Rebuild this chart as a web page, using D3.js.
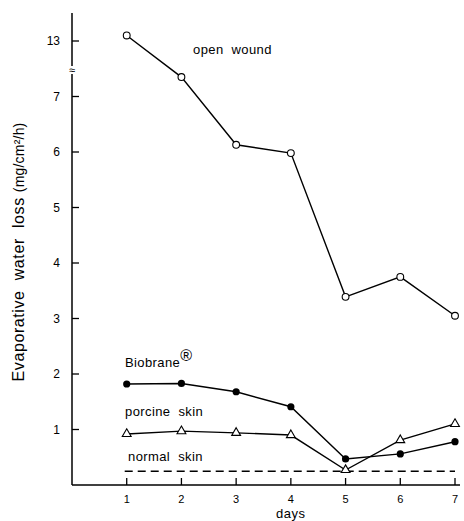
<!DOCTYPE html>
<html>
<head>
<meta charset="utf-8">
<script src="https://cdn.jsdelivr.net/npm/d3@7"></script>
<style>
  body { margin: 0; background: #fff; }
  svg { display: block; font-family: "Liberation Sans", Arial, sans-serif; }
  text { white-space: pre; }
</style>
</head>
<body>
<div class="container"></div>
<script>
// data
const days = [1, 2, 3, 4, 5, 6, 7];
const openWound = [13.1, 7.35, 6.13, 5.98, 3.39, 3.75, 3.05];
const biobrane = [1.82, 1.83, 1.68, 1.41, 0.47, 0.56, 0.78];
const porcine = [0.92, 0.97, 0.94, 0.9, 0.27, 0.81, 1.1];
const normalSkin = 0.25;
const yTicks = [1, 2, 3, 4, 5, 6, 7, 13];
const xTicks = [1, 2, 3, 4, 5, 6, 7];

const W = 464, H = 521;
const margin = { top: 13, right: 4, bottom: 36, left: 72 };

const svg = d3.select(".container")
    .append("svg")
    .attr("width", W)
    .attr("height", H);

const x = d3.scaleLinear()
    .domain([0, 7])
    .range([margin.left, 455]);

// linear part 0..8, values above the break are shifted down by 5
const yLin = d3.scaleLinear()
    .domain([0, 8])
    .range([485, 41]);
const y = v => v > 10 ? yLin(v - 5) : yLin(v);

const g = svg.append("g");

// axes lines
g.append("line")
    .attr("x1", margin.left).attr("x2", margin.left)
    .attr("y1", 13).attr("y2", 66)
    .attr("stroke", "#000").attr("stroke-width", 1.5);
g.append("line")
    .attr("x1", margin.left).attr("x2", margin.left)
    .attr("y1", 74).attr("y2", 485)
    .attr("stroke", "#000").attr("stroke-width", 1.5);
g.append("line")
    .attr("x1", margin.left).attr("x2", 460)
    .attr("y1", 485).attr("y2", 485)
    .attr("stroke", "#000").attr("stroke-width", 1.5);

// axis break mark
g.append("text")
    .attr("x", margin.left)
    .attr("y", 74)
    .attr("text-anchor", "middle")
    .attr("font-size", 11)
    .text("≈");

// y ticks
const yAxis = g.append("g").attr("class", "y-axis");
yAxis.selectAll("line")
    .data(yTicks)
    .enter()
    .append("line")
    .attr("x1", margin.left).attr("x2", margin.left + 7)
    .attr("y1", d => y(d)).attr("y2", d => y(d))
    .attr("stroke", "#000").attr("stroke-width", 1.3);
yAxis.selectAll("text")
    .data(yTicks)
    .enter()
    .append("text")
    .attr("x", margin.left - 12)
    .attr("y", d => y(d) + 4)
    .attr("text-anchor", "end")
    .attr("font-size", 12)
    .text(d => d);

// x ticks
const xAxis = g.append("g").attr("class", "x-axis");
xAxis.selectAll("line")
    .data(xTicks)
    .enter()
    .append("line")
    .attr("x1", d => x(d)).attr("x2", d => x(d))
    .attr("y1", 485).attr("y2", 478)
    .attr("stroke", "#000").attr("stroke-width", 1.3);
xAxis.selectAll("text")
    .data(xTicks)
    .enter()
    .append("text")
    .attr("x", d => x(d))
    .attr("y", 503)
    .attr("text-anchor", "middle")
    .attr("font-size", 11)
    .text(d => d);

g.append("text")
    .attr("x", x(4))
    .attr("y", 518)
    .attr("text-anchor", "middle")
    .attr("font-size", 13)
    .attr("letter-spacing", 0.5)
    .text("days");

// y title
g.append("text")
    .attr("transform", "translate(24, 252) rotate(-90)")
    .attr("text-anchor", "middle")
    .attr("font-size", 16)
    .attr("letter-spacing", 0.6)
    .text("Evaporative  water  loss ")
    .append("tspan")
    .attr("font-size", 14)
    .attr("letter-spacing", 0.2)
    .text("(mg/cm²/h)");

// normal skin dashed line
g.append("line")
    .attr("x1", x(1) - 2).attr("x2", x(7))
    .attr("y1", y(normalSkin)).attr("y2", y(normalSkin))
    .attr("stroke", "#000").attr("stroke-width", 1.5)
    .attr("stroke-dasharray", "8,5");

const line = d3.line()
    .x((d, i) => x(days[i]))
    .y(d => y(d));

function series(values) {
    g.append("path")
        .datum(values)
        .attr("d", line)
        .attr("fill", "none")
        .attr("stroke", "#000")
        .attr("stroke-width", 1.4);
}
series(openWound);
series(biobrane);
series(porcine);

g.selectAll("circle.ow")
    .data(openWound)
    .enter()
    .append("circle")
    .attr("class", "ow")
    .attr("cx", (d, i) => x(days[i]))
    .attr("cy", d => y(d))
    .attr("r", 3.4)
    .attr("fill", "#fff")
    .attr("stroke", "#000")
    .attr("stroke-width", 1.1);

g.selectAll("circle.bb")
    .data(biobrane)
    .enter()
    .append("circle")
    .attr("class", "bb")
    .attr("cx", (d, i) => x(days[i]))
    .attr("cy", d => y(d))
    .attr("r", 3.6)
    .attr("fill", "#000");

const tri = d3.symbol().type(d3.symbolTriangle).size(34);
g.selectAll("path.pc")
    .data(porcine)
    .enter()
    .append("path")
    .attr("class", "pc")
    .attr("d", tri)
    .attr("transform", (d, i) => `translate(${x(days[i])}, ${y(d)})`)
    .attr("fill", "#fff")
    .attr("stroke", "#000")
    .attr("stroke-width", 1.1);

// labels
const labels = g.append("g").attr("font-size", 13).attr("letter-spacing", 0.4);
labels.append("text").attr("x", 193).attr("y", 54).text("open  wound");
labels.append("text").attr("x", 125).attr("y", 367)
    .text("Biobrane")
    .append("tspan").attr("font-size", 16).attr("dy", -6).text("®");
labels.append("text").attr("x", 125).attr("y", 416).text("porcine  skin");
labels.append("text").attr("x", 128).attr("y", 461).text("normal  skin");
</script>
</body>
</html>
